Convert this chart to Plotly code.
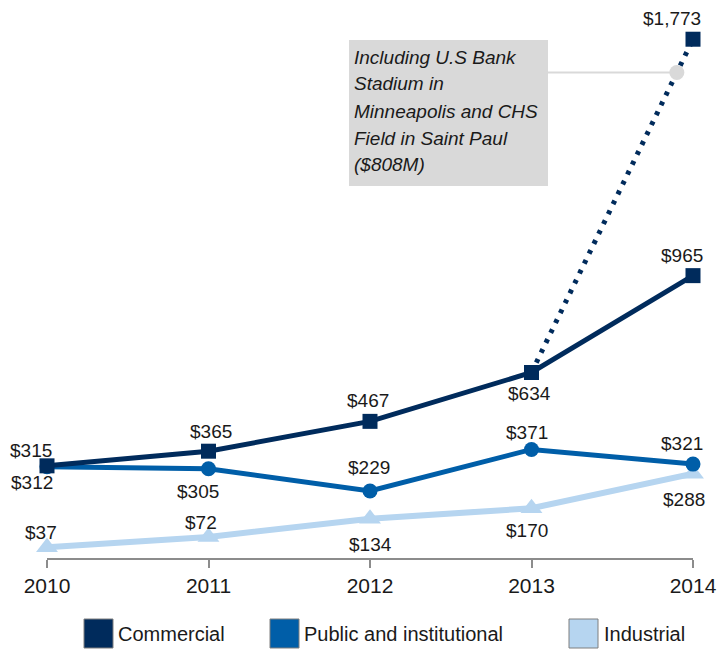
import plotly.graph_objects as go

years = [2010, 2011, 2012, 2013, 2014]
commercial = [315, 365, 467, 634, 965]
public = [312, 305, 229, 371, 321]
industrial = [37, 72, 134, 170, 288]

# alternate commercial path including the two stadiums
stadium_years = [2013, 2014]
stadium_commercial = [634, 1773]

series_names = ['Commercial', 'Public and institutional', 'Industrial']
callout_lines = ['Including U.S Bank', 'Stadium in', 'Minneapolis and CHS',
                 'Field in Saint Paul', '($808M)']

# label offsets in px (x, y) relative to each point
commercial_shift = [(-16, 15), (2, 20), (-2, 21), (-2, -21), (-11, 20)]
stadium_shift = [(-21, 21)]
public_shift = [(-15, -16), (-11, -23), (-1, 23), (-5, 17), (-11, 21)]
industrial_shift = [(-6, 15), (-8, 14), (0, -26), (-5, -22), (-9, -26)]

C_COM = '#002b5c'
C_PUB = '#005ea8'
C_IND = '#b6d5f0'
TXT = '#1a1a1a'
FONT = 'Liberation Sans, Arial, sans-serif'

W, H = 717, 649
L, R, T, B = 47, 24, 0, 91
PW, PH = W - L - R, H - T - B


def px_x(p):
    return (p - L) / PW


def px_y(p):
    return (H - B - p) / PH


def money(v):
    return f'${v:,}'


fig = go.Figure()


def add_series(x, y, color, width, symbol, size):
    fig.add_trace(go.Scatter(
        x=x, y=y, mode='lines+markers',
        line=dict(color=color, width=width),
        marker=dict(symbol=symbol, size=size, color=color),
        cliponaxis=False, showlegend=False
    ))


annotations = []


def add_labels(x, y, shifts):
    for xv, yv, (dx, dy) in zip(x, y, shifts):
        annotations.append(dict(
            x=xv, y=yv, xref='x', yref='y', showarrow=False,
            text=money(yv), xshift=dx, yshift=dy,
            xanchor='center', yanchor='middle',
            font=dict(family=FONT, size=19, color=TXT)
        ))


add_series(years, industrial, C_IND, 6, 'triangle-up', 19)
add_series(years, public, C_PUB, 5, 'circle', 15)

fig.add_trace(go.Scatter(
    x=stadium_years, y=stadium_commercial, mode='lines',
    line=dict(color=C_COM, width=5, dash='4px,7px'),
    cliponaxis=False, showlegend=False
))

# callout point on the stadium path
frac = 0.9
cx = stadium_years[0] + frac * (stadium_years[1] - stadium_years[0])
cy = stadium_commercial[0] + frac * (stadium_commercial[1] - stadium_commercial[0])
fig.add_trace(go.Scatter(
    x=[2013.1, cx], y=[cy, cy], mode='lines',
    line=dict(color='#d9d9d9', width=2),
    showlegend=False, hoverinfo='skip'
))
fig.add_trace(go.Scatter(
    x=[cx], y=[cy], mode='markers',
    marker=dict(symbol='circle', size=15, color='#d9d9d9'),
    showlegend=False, hoverinfo='skip'
))

fig.add_trace(go.Scatter(
    x=stadium_years[1:], y=stadium_commercial[1:], mode='markers',
    marker=dict(symbol='square', size=15, color=C_COM),
    cliponaxis=False, showlegend=False
))
add_series(years, commercial, C_COM, 5, 'square', 15)

add_labels(years, industrial, industrial_shift)
add_labels(years, public, public_shift)
add_labels(years, commercial, commercial_shift)
add_labels(stadium_years[1:], stadium_commercial[1:], stadium_shift)

shapes = [dict(
    type='rect', xref='paper', yref='paper', layer='below',
    x0=px_x(349), x1=px_x(548), y0=px_y(186), y1=px_y(40),
    fillcolor='#d9d9d9', line=dict(width=0)
)]
for i, line in enumerate(callout_lines):
    annotations.append(dict(
        x=px_x(352), y=px_y(57 + 27 * i), xref='paper', yref='paper',
        xanchor='left', yanchor='middle', showarrow=False, text=line,
        font=dict(family=FONT, size=19, color=TXT, style='italic')
    ))

# manual legend with large square keys
legend_keys = [(84, 116), (270, 302), (569, 602)]
for name, color, (kx, tx) in zip(series_names, [C_COM, C_PUB, C_IND], legend_keys):
    shapes.append(dict(
        type='rect', xref='paper', yref='paper',
        x0=px_x(kx), x1=px_x(kx + 29), y0=px_y(648), y1=px_y(619),
        fillcolor=color, line=dict(color='#7f7f7f', width=1)
    ))
    annotations.append(dict(
        x=px_x(tx), y=px_y(634), xref='paper', yref='paper',
        xanchor='left', yanchor='middle', showarrow=False,
        text=name, font=dict(family=FONT, size=20, color=TXT)
    ))

fig.update_layout(
    width=W, height=H,
    margin=dict(l=L, r=R, t=T, b=B),
    paper_bgcolor='white',
    plot_bgcolor='white',
    font=dict(family=FONT, size=19, color=TXT),
    xaxis=dict(
        range=[2010, 2014], tickvals=years,
        showgrid=False, zeroline=False,
        showline=True, linecolor='#8c8c8c', linewidth=2,
        ticks='outside', ticklen=8, tickwidth=2, tickcolor='#8c8c8c',
        tickfont=dict(size=21, color=TXT),
        ticklabeloverflow='allow'
    ),
    yaxis=dict(
        range=[0, PH / 0.2926], visible=False, showgrid=False, zeroline=False
    ),
    shapes=shapes,
    annotations=annotations,
    showlegend=False
)

# drop the default page margin so the figure fills the window exactly
fig.write_html('out.html',
               config={'displayModeBar': False},
               post_script="document.body.style.margin='0';"
                           "document.body.style.overflow='hidden';")
